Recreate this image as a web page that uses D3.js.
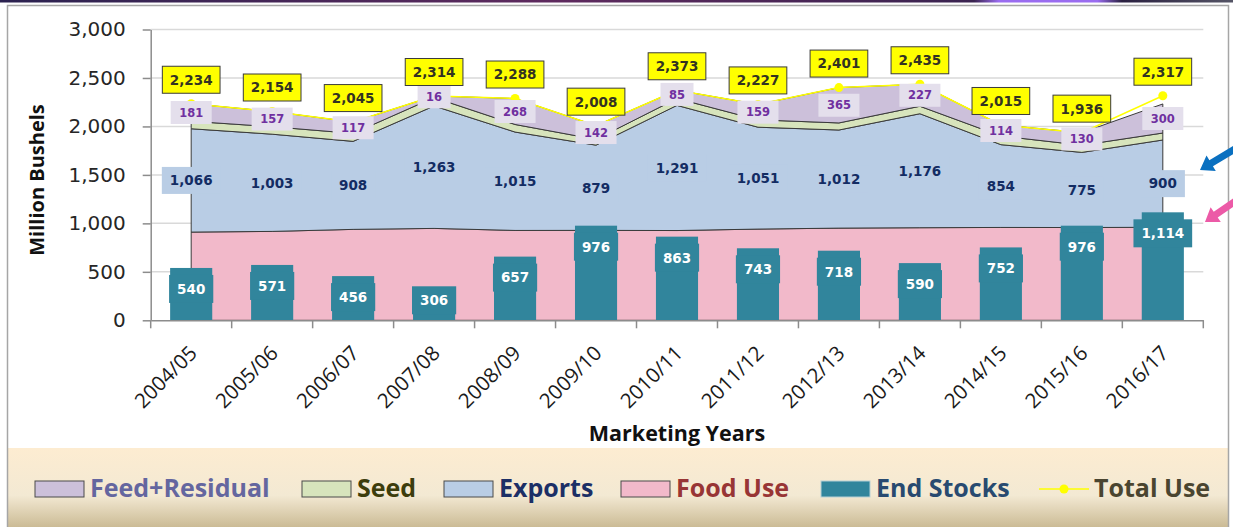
<!DOCTYPE html>
<html>
<head>
<meta charset="utf-8">
<script src="https://cdn.jsdelivr.net/npm/d3@7"></script>
<style>
  html, body { margin: 0; padding: 0; background: #ffffff; }
  svg { display: block; }
</style>
</head>
<body>
<svg id="chart" width="1233" height="527"></svg>
<script>
// Wheat supply & use by marketing year (million bushels)
const categories = ["2004/05","2005/06","2006/07","2007/08","2008/09","2009/10","2010/11",
                    "2011/12","2012/13","2013/14","2014/15","2015/16","2016/17"];
const foodUse      = [910, 917, 938, 948, 927, 928, 926, 941, 951, 955, 958, 957, 960];
const exportsUse   = [1066, 1003, 908, 1263, 1015, 879, 1291, 1051, 1012, 1176, 854, 775, 900];
const seedUse      = [77, 77, 82, 87, 78, 59, 71, 76, 73, 77, 89, 74, 72];
const feedResidual = [181, 157, 117, 16, 268, 142, 85, 159, 365, 227, 114, 130, 300];
const endStocks    = [540, 571, 456, 306, 657, 976, 863, 743, 718, 590, 752, 976, 1114];
const totalUse     = [2234, 2154, 2045, 2314, 2288, 2008, 2373, 2227, 2401, 2435, 2015, 1936, 2317];
const yTickValues  = [0, 500, 1000, 1500, 2000, 2500, 3000];

const legendItems = [
  { label: "Feed+Residual", kind: "area", fill: "#ccc0da", text: "#64669f", x: 35 },
  { label: "Seed",          kind: "area", fill: "#d7e4bc", text: "#3d3d0c", x: 302 },
  { label: "Exports",       kind: "area", fill: "#b9cde5", text: "#1c2f66", x: 444 },
  { label: "Food Use",      kind: "area", fill: "#f2b9ca", text: "#983535", x: 621 },
  { label: "End Stocks",    kind: "bar",  fill: "#31859c", text: "#284a70", x: 821 },
  { label: "Total Use",     kind: "line", fill: "#ffff00", text: "#4a4530", x: 1039 }
];

const rows = categories.map((c, i) => ({
  cat: c, food: foodUse[i], exports: exportsUse[i], seed: seedUse[i], feed: feedResidual[i],
  stocks: endStocks[i], total: totalUse[i]
}));

const svg = d3.select("#chart");
const fmt = d3.format(",");

// ---- frame, header strip, legend background ----
const defs = svg.append("defs");
const hdr = defs.append("linearGradient").attr("id", "hdr");
hdr.append("stop").attr("offset", "0%").attr("stop-color", "#2b2250");
hdr.append("stop").attr("offset", "45%").attr("stop-color", "#5e2a5e");
hdr.append("stop").attr("offset", "79%").attr("stop-color", "#3a2350");
hdr.append("stop").attr("offset", "81%").attr("stop-color", "#9a6cf0");
hdr.append("stop").attr("offset", "89%").attr("stop-color", "#9a6cf0");
hdr.append("stop").attr("offset", "91%").attr("stop-color", "#2a2040");
hdr.append("stop").attr("offset", "100%").attr("stop-color", "#555566");
const lg = defs.append("linearGradient").attr("id", "legendBg")
  .attr("x1", 0).attr("y1", 0).attr("x2", 0).attr("y2", 1);
lg.append("stop").attr("offset", "0%").attr("stop-color", "#fdecd1");
lg.append("stop").attr("offset", "60%").attr("stop-color", "#f3e9d3");
lg.append("stop").attr("offset", "100%").attr("stop-color", "#cbbb95");

svg.append("rect").attr("x", 0).attr("y", 0).attr("width", 1233).attr("height", 2.5).attr("fill", "url(#hdr)");
svg.append("rect").attr("x", 8).attr("y", 448).attr("width", 1220).attr("height", 79).attr("fill", "url(#legendBg)");
svg.append("path").attr("d", "M7.5,527 V5.5 H1228.5 V527")
  .attr("fill", "none").attr("stroke", "#a6a6a6").attr("stroke-width", 1.5);

// ---- scales ----
const plotL = 150.7, plotR = 1203.3, yBottom = 320.3, yTop = 29.5;
const x = d3.scaleBand().domain(categories).range([plotL, plotR]).padding(0);
const cx = c => x(c) + x.bandwidth() / 2;
const barW = x.bandwidth() * 0.52;
const y = d3.scaleLinear().domain([0, 3000]).range([yBottom, yTop]);

// gridlines
svg.append("g").selectAll("line").data(yTickValues.filter(v => v > 0)).join("line")
  .attr("x1", plotL).attr("x2", plotR).attr("y1", d => y(d)).attr("y2", d => y(d))
  .attr("stroke", "#d9d9d9").attr("stroke-width", 1.5);

// ---- stacked areas ----
const keys = ["food", "exports", "seed", "feed"];
const areaFill = { food: "#f2b9ca", exports: "#b9cde5", seed: "#d7e4bc", feed: "#ccc0da" };
const stacked = d3.stack().keys(keys)(rows);
const area = d3.area().x(d => cx(d.data.cat)).y0(d => y(d[0])).y1(d => y(d[1]));
svg.append("g").selectAll("path").data(stacked).join("path")
  .attr("d", area).attr("fill", d => areaFill[d.key])
  .attr("stroke", "#3a3a3a").attr("stroke-width", 1).attr("stroke-linejoin", "round");

// ---- end stocks bars ----
svg.append("g").selectAll("rect").data(rows).join("rect")
  .attr("x", d => cx(d.cat) - barW / 2).attr("width", barW)
  .attr("y", d => y(d.stocks)).attr("height", d => y(0) - y(d.stocks))
  .attr("fill", "#31859c");

// ---- axes ----
const yAxis = svg.append("g").attr("transform", `translate(${plotL},0)`)
  .call(d3.axisLeft(y).tickValues(yTickValues).tickFormat(fmt).tickSizeInner(8).tickSizeOuter(0).tickPadding(17));
yAxis.select(".domain").attr("stroke", "#8c8c8c").attr("stroke-width", 1.5);
yAxis.selectAll(".tick line").attr("stroke", "#8c8c8c").attr("stroke-width", 1.5);
yAxis.selectAll(".tick text").attr("font-family", "DejaVu Sans, Verdana, sans-serif")
  .attr("font-size", 20).attr("fill", "#262626");

const xAxis = svg.append("g").attr("transform", `translate(0,${yBottom})`)
  .call(d3.axisBottom(x).tickSize(0).tickFormat(d => d));
xAxis.select(".domain").attr("stroke", "#8c8c8c").attr("stroke-width", 1.5);
xAxis.selectAll(".tick text")
  .attr("font-family", "Open Sans, sans-serif").attr("font-size", 20.5).attr("fill", "#1a1a1a")
  .attr("text-anchor", "end").attr("dy", "0.35em")
  .attr("transform", "translate(2,29) rotate(-45)").attr("y", 0).attr("x", 0);
// category boundary ticks
const bounds = categories.map(c => x(c)).concat([plotR]);
svg.append("g").selectAll("line").data(bounds).join("line")
  .attr("x1", d => d).attr("x2", d => d).attr("y1", yBottom).attr("y2", yBottom + 8)
  .attr("stroke", "#8c8c8c").attr("stroke-width", 1.5);

// axis titles
svg.append("text").attr("transform", `translate(44,180) rotate(-90)`)
  .attr("text-anchor", "middle").attr("font-family", "Open Sans, sans-serif").attr("font-weight", 700)
  .attr("font-size", 20).attr("fill", "#111").text("Million Bushels");
svg.append("text").attr("x", 677).attr("y", 440.5).attr("text-anchor", "middle")
  .attr("font-family", "Open Sans, sans-serif").attr("font-weight", 700)
  .attr("font-size", 21.5).attr("fill", "#111").text("Marketing Years");

// ---- total use line ----
const line = d3.line().x(d => cx(d.cat)).y(d => y(d.total));
svg.append("path").datum(rows).attr("d", line).attr("fill", "none")
  .attr("stroke", "#ffff00").attr("stroke-width", 1.5);
svg.append("g").selectAll("circle").data(rows).join("circle")
  .attr("cx", d => cx(d.cat)).attr("cy", d => y(d.total)).attr("r", 4.5).attr("fill", "#ffff00");

// ---- data labels ----
function boxLabel(g, data, opt) {
  const grp = g.append("g").selectAll("g").data(data).join("g")
    .attr("transform", d => `translate(${opt.x(d)},${opt.y(d)})`);
  grp.append("rect").attr("fill", opt.fill)
    .attr("stroke", opt.stroke || "none").attr("stroke-width", 1);
  const txt = grp.append("text").attr("text-anchor", "middle").attr("dy", "0.36em")
    .attr("font-family", "DejaVu Sans, Verdana, sans-serif").attr("font-weight", 700)
    .attr("font-size", opt.size).attr("fill", opt.color).text(opt.text);
  txt.each(function () {
    const w = this.getComputedTextLength() + opt.padX * 2;
    d3.select(this.previousSibling).attr("x", -w / 2).attr("y", -opt.h / 2)
      .attr("width", w).attr("height", opt.h);
  });
}
const labels = svg.append("g");
const seg = k => stacked.find(s => s.key === k);

boxLabel(labels, seg("exports"), {
  x: d => cx(d.data.cat), y: d => y((d[0] + d[1]) / 2), fill: "#b9cde5",
  text: d => fmt(d.data.exports), size: 13.5, color: "#132c63", padX: 8, h: 27
});
boxLabel(labels, seg("feed"), {
  x: d => cx(d.data.cat), y: d => y((d[0] + d[1]) / 2), fill: "#e4dfec",
  text: d => fmt(d.data.feed), size: 11.5, color: "#7030a0", padX: 8.5, h: 23
});
boxLabel(labels, rows, {
  x: d => cx(d.cat), y: d => Math.min(y(d.stocks) + 21, y(0) - 20), fill: "#31859c",
  text: d => fmt(d.stocks), size: 13.5, color: "#ffffff", padX: 8, h: 28
});
boxLabel(labels, rows, {
  x: d => cx(d.cat), y: d => y(d.total) - 24, fill: "#ffff00", stroke: "#3b3b3b",
  text: d => fmt(d.total), size: 13.5, color: "#333322", padX: 7.5, h: 27
});

// ---- callout arrows on the right edge ----
function arrow(tx, ty, ex, ey, shaft, headW, headL, color) {
  const dx = ex - tx, dy = ey - ty, len = Math.hypot(dx, dy);
  const ux = dx / len, uy = dy / len, px = -uy, py = ux;
  const bx = tx + ux * headL, by = ty + uy * headL;
  const pts = [
    [tx, ty],
    [bx + px * headW / 2, by + py * headW / 2],
    [bx + px * shaft / 2, by + py * shaft / 2],
    [ex + px * shaft / 2, ey + py * shaft / 2],
    [ex - px * shaft / 2, ey - py * shaft / 2],
    [bx - px * shaft / 2, by - py * shaft / 2],
    [bx - px * headW / 2, by - py * headW / 2]
  ];
  svg.append("path").attr("d", "M" + pts.map(p => p.join(",")).join("L") + "Z").attr("fill", color);
}
arrow(1200, 170, 1240, 146, 7, 18, 13, "#0a70c0");
arrow(1205, 222, 1240, 198, 7, 18, 13, "#ec5aa7");

// ---- legend ----
const leg = svg.append("g");
const legY = 489;
legendItems.forEach(it => {
  if (it.kind === "line") {
    leg.append("line").attr("x1", it.x).attr("x2", it.x + 50).attr("y1", legY).attr("y2", legY)
      .attr("stroke", it.fill).attr("stroke-width", 1.5);
    leg.append("circle").attr("cx", it.x + 25).attr("cy", legY).attr("r", 4.5).attr("fill", it.fill);
  } else {
    leg.append("rect").attr("x", it.x).attr("y", legY - 8).attr("width", 49).attr("height", 16)
      .attr("fill", it.fill).attr("stroke", it.kind === "bar" ? "#b6cfd6" : "#4a4a4a").attr("stroke-width", 1);
  }
  leg.append("text").attr("x", it.x + 55).attr("y", legY + 8)
    .attr("font-family", "Open Sans, sans-serif").attr("font-weight", 700).attr("font-size", 25)
    .attr("fill", it.text).text(it.label);
});
</script>
</body>
</html>
